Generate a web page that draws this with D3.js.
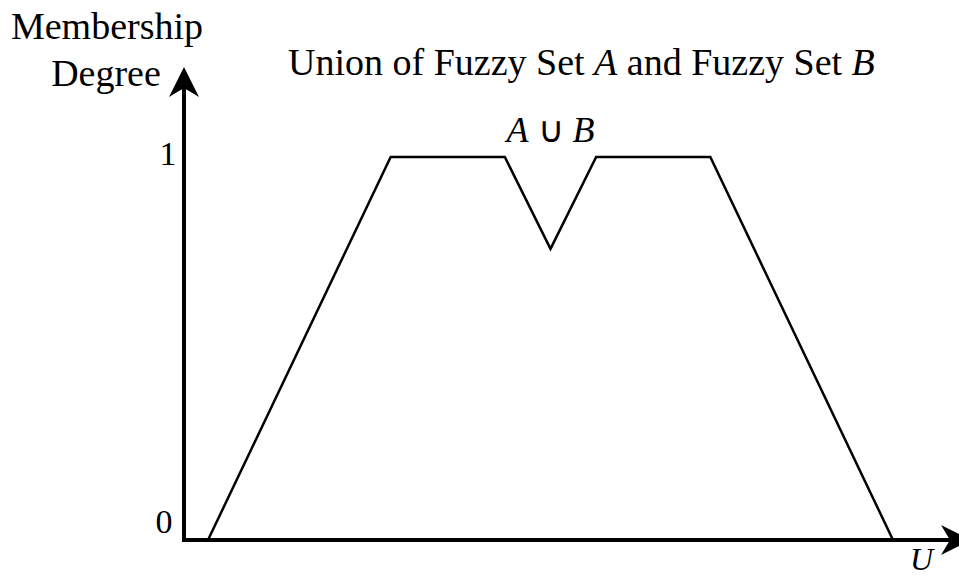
<!DOCTYPE html>
<html lang="en">
<head>
  <meta charset="UTF-8">
  <title>Union of Fuzzy Set A and Fuzzy Set B</title>
  <script src="https://d3js.org/d3.v7.min.js"></script>
  <style>
    body {
      margin: 0;
      background-color: #fff;
    }
    svg text {
      font-family: "Liberation Serif", "Times New Roman", serif;
      fill: #000;
    }
    .curve {
      fill: none;
      stroke: #000;
      stroke-width: 2.5px;
      stroke-linejoin: miter;
    }
    .axis-line {
      stroke: #000;
      stroke-width: 4px;
    }
  </style>
</head>
<body>
  <svg width="959" height="577"></svg>

  <script>
    // Universe positions of the union's breakpoints and their membership degrees
    const uValues = [0, 16, 26, 30, 34, 44, 60];
    const muValues = [0, 1, 1, 0.76, 1, 1, 0];
    const yTicks = [0, 1];

    const svg = d3.select("svg");

    const x = d3.scaleLinear().domain([0, 60]).range([208, 893]);
    const y = d3.scaleLinear().domain([0, 1]).range([540, 157]);

    const origin = {x: 184, y: 540};

    // Axes with arrowheads
    svg.append("line")
      .attr("class", "axis-line")
      .attr("x1", origin.x).attr("y1", origin.y + 2)
      .attr("x2", origin.x).attr("y2", 88);

    svg.append("line")
      .attr("class", "axis-line")
      .attr("x1", origin.x - 2).attr("y1", origin.y)
      .attr("x2", 955).attr("y2", origin.y);

    // y arrow (concave head)
    svg.append("path")
      .attr("d", `M${origin.x},67 L${origin.x + 15},97 L${origin.x},88 L${origin.x - 15},97 Z`)
      .attr("fill", "#000");

    // x arrow, tip runs off the right edge
    svg.append("path")
      .attr("d", `M971,${origin.y} L941,${origin.y + 15} L950,${origin.y} L941,${origin.y - 15} Z`)
      .attr("fill", "#000");

    // Membership curve
    const line = d3.line()
      .x((d, i) => x(uValues[i]))
      .y(d => y(d));

    svg.append("path")
      .attr("class", "curve")
      .attr("d", line(muValues));

    // Tick labels
    svg.selectAll(".ytick")
      .data(yTicks)
      .enter()
      .append("text")
      .attr("class", "ytick")
      .attr("x", d => d === 0 ? 164 : 168)
      .attr("y", d => d === 0 ? y(d) - 7 : y(d) + 8)
      .attr("text-anchor", "middle")
      .attr("font-size", 34)
      .text(d => d);

    // Axis titles
    svg.append("text")
      .attr("x", 107).attr("y", 39)
      .attr("text-anchor", "middle")
      .attr("font-size", 38)
      .text("Membership");

    svg.append("text")
      .attr("x", 106).attr("y", 86)
      .attr("text-anchor", "middle")
      .attr("font-size", 38)
      .text("Degree");

    svg.append("text")
      .attr("x", 910).attr("y", 570)
      .attr("font-size", 32)
      .attr("font-style", "italic")
      .text("U");

    // Chart title
    const t = svg.append("text")
      .attr("x", 288).attr("y", 75)
      .attr("font-size", 38);
    t.append("tspan").text("Union of Fuzzy Set ");
    t.append("tspan").attr("font-style", "italic").text("A");
    t.append("tspan").text(" and Fuzzy Set ");
    t.append("tspan").attr("font-style", "italic").text("B");

    // Curve label
    const lab = svg.append("text")
      .attr("x", x(30)).attr("y", 142)
      .attr("text-anchor", "middle")
      .attr("font-size", 36);
    lab.append("tspan").attr("font-style", "italic").text("A");
    lab.append("tspan").text(" \u222A ");
    lab.append("tspan").attr("font-style", "italic").text("B");
  </script>
</body>
</html>
